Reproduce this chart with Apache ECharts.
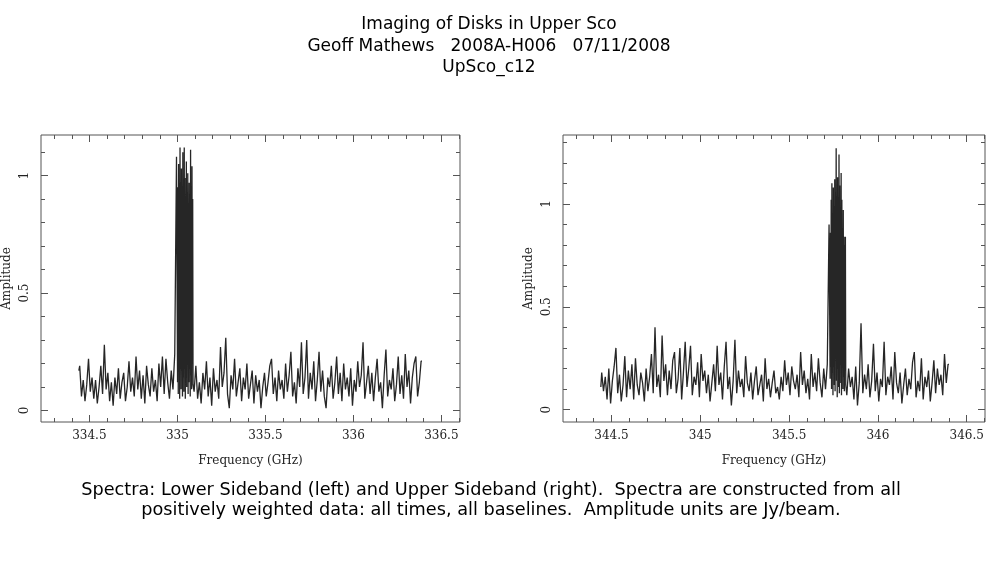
<!DOCTYPE html>
<html>
<head>
<meta charset="utf-8">
<script src="https://cdn.jsdelivr.net/npm/echarts@6/dist/echarts.min.js"></script>
<style>
  html, body { margin: 0; padding: 0; background: #fff; }
  #chart { width: 987px; height: 567px; }
</style>
</head>
<body>
<div id="chart"></div>
<script>
// channel grids (GHz)
var chanStep = 0.01, lineStep = 0.002;
var lsbStart = 334.44, lsbLineStart = 335.00, lsbHighStart = 335.10;
var usbStart = 344.44, usbLineStart = 345.73, usbHighStart = 345.83;

// lower sideband amplitudes (Jy/beam)
var lsbLow = [0.17,0.19,0.06,0.13,0.04,0.11,0.22,0.08,0.14,0.05,0.13,0.03,0.10,0.19,0.07,0.28,0.09,0.16,0.04,0.12,
  0.02,0.14,0.07,0.18,0.05,0.12,0.16,0.04,0.10,0.21,0.08,0.14,0.06,0.23,0.09,0.17,0.05,0.15,0.03,0.19,
  0.11,0.06,0.18,0.08,0.13,0.04,0.20,0.10,0.23,0.07,0.22,0.12,0.05,0.17,0.09,0.24];
var lsbLine = [1.08,0.12,0.95,0.07,1.05,0.25,0.88,0.05,1.12,0.18,0.97,0.09,1.03,0.30,0.84,0.06,1.10,0.14,0.92,0.08,
  1.12,0.22,0.99,0.05,0.86,0.16,1.06,0.10,0.93,0.27,1.01,0.07,0.79,0.12,0.97,0.20,0.74,0.06,1.11,0.15,
  0.95,0.09,1.04,0.24,0.90,0.11];
var lsbHigh = [0.08,0.19,0.05,0.12,0.03,0.16,0.09,0.21,0.06,0.14,0.02,0.18,0.08,0.13,0.05,0.27,0.10,0.16,0.31,0.07,
  0.01,0.15,0.09,0.22,0.06,0.12,0.18,0.04,0.14,0.09,0.20,0.05,0.11,0.17,0.03,0.15,0.08,0.13,0.01,0.10,
  0.16,0.06,0.12,0.19,0.22,0.07,0.14,0.04,0.17,0.09,0.13,0.05,0.20,0.08,0.15,0.25,0.06,0.12,0.03,0.18,
  0.10,0.29,0.07,0.14,0.30,0.05,0.16,0.09,0.21,0.04,0.13,0.25,0.08,0.17,0.06,0.01,0.14,0.10,0.19,0.05,
  0.12,0.23,0.07,0.16,0.04,0.20,0.09,0.14,0.06,0.18,0.02,0.13,0.08,0.21,0.10,0.15,0.29,0.05,0.12,0.19,
  0.07,0.16,0.04,0.14,0.22,0.08,0.12,0.01,0.15,0.26,0.06,0.13,0.09,0.18,0.04,0.11,0.23,0.07,0.15,0.05,
  0.24,0.10,0.17,0.03,0.14,0.20,0.23,0.06,0.12,0.21];

// upper sideband amplitudes (Jy/beam)
var usbLow = [0.11,0.18,0.09,0.16,0.05,0.20,0.03,0.14,0.21,0.30,0.08,0.17,0.04,0.12,0.26,0.06,0.19,0.10,0.22,0.05,
  0.25,0.12,0.07,0.18,0.13,0.04,0.20,0.09,0.16,0.27,0.08,0.40,0.11,0.17,0.06,0.36,0.14,0.22,0.07,0.19,
  0.10,0.24,0.28,0.08,0.15,0.30,0.05,0.18,0.33,0.11,0.20,0.31,0.07,0.16,0.12,0.23,0.06,0.27,0.14,0.19,
  0.08,0.17,0.04,0.13,0.22,0.09,0.31,0.12,0.18,0.05,0.21,0.33,0.10,0.16,0.02,0.14,0.34,0.08,0.19,0.11,
  0.15,0.06,0.26,0.13,0.09,0.18,0.05,0.14,0.21,0.07,0.12,0.17,0.04,0.25,0.10,0.15,0.06,0.13,0.19,0.08,
  0.11,0.05,0.16,0.09,0.24,0.12,0.18,0.07,0.21,0.14,0.10,0.17,0.06,0.28,0.12,0.19,0.08,0.15,0.05,0.27,
  0.11,0.18,0.09,0.25,0.13,0.06,0.20,0.10,0.22];
var usbLine = [0.90,0.15,0.86,0.21,1.02,0.10,1.10,0.18,0.95,0.07,1.08,0.25,0.99,0.12,1.12,0.09,1.05,0.30,1.27,0.14,
  0.92,0.06,1.13,0.20,1.00,0.11,1.24,0.08,1.09,0.27,0.96,0.13,1.15,0.07,1.02,0.22,0.88,0.10,0.97,0.16,
  0.84,0.09,0.80,0.19,0.84,0.12];
var usbHigh = [0.07,0.20,0.11,0.16,0.05,0.21,0.02,0.13,0.42,0.08,0.17,0.10,0.22,0.06,0.14,0.32,0.09,0.18,0.04,0.15,
  0.11,0.33,0.07,0.16,0.12,0.21,0.05,0.28,0.13,0.08,0.18,0.03,0.12,0.20,0.07,0.15,0.10,0.23,0.28,0.06,
  0.14,0.09,0.25,0.05,0.16,0.11,0.19,0.04,0.13,0.24,0.08,0.20,0.12,0.17,0.07,0.27,0.13,0.22];

// tick positions
var lsbMajor = [334.5, 335, 335.5, 336, 336.5];
var usbMajor = [344.5, 345, 345.5, 346, 346.5];
var lsbMinor = [334.3,334.4,334.6,334.7,334.8,334.9,335.1,335.2,335.3,335.4,335.6,335.7,335.8,335.9,336.1,336.2,336.3,336.4,336.6];
var usbMinor = [344.3,344.4,344.6,344.7,344.8,344.9,345.1,345.2,345.3,345.4,345.6,345.7,345.8,345.9,346.1,346.2,346.3,346.4,346.6];
var ampMajor = [0, 0.5, 1];
var lsbAmpMinor = [0.1,0.2,0.3,0.4,0.6,0.7,0.8,0.9,1.1];
var usbAmpMinor = [0.1,0.2,0.3,0.4,0.6,0.7,0.8,0.9,1.1,1.2,1.3];

function channels(start, step, vals) {
  return vals.map(function (v, i) { return [+(start + i * step).toFixed(4), v]; });
}

var lsbData = channels(lsbStart, chanStep, lsbLow)
  .concat(channels(lsbLineStart, lineStep, lsbLine), channels(lsbHighStart, chanStep, lsbHigh));
var usbData = channels(usbStart, chanStep, usbLow)
  .concat(channels(usbLineStart, lineStep, usbLine), channels(usbHighStart, chanStep, usbHigh));

var axisFont = 'DejaVu Serif';
var boxColor = '#555';

function tickAxis(g, pos, min, max, ticks, len, labels, extra) {
  var ax = {
    type: 'value', gridIndex: g, position: pos, min: min, max: max,
    axisLine: { show: false, onZero: false },
    splitLine: { show: false },
    axisTick: { show: true, inside: true, length: len, customValues: ticks,
      lineStyle: { color: boxColor, width: 1 } },
    axisLabel: { show: labels, customValues: ticks, color: '#222',
      fontFamily: axisFont, fontSize: 12 }
  };
  for (var k in extra) ax[k] = extra[k];
  return ax;
}

function xAxesFor(g, min, max, major, minor) {
  return [
    tickAxis(g, 'bottom', min, max, major, 7, true, {
      name: 'Frequency (GHz)', nameLocation: 'middle', nameGap: 33,
      nameTextStyle: { fontFamily: axisFont, fontSize: 12, color: '#222' }
    }),
    tickAxis(g, 'bottom', min, max, minor, 4, false, {}),
    tickAxis(g, 'top', min, max, major, 7, false, {}),
    tickAxis(g, 'top', min, max, minor, 4, false, {})
  ];
}

function yAxesFor(g, min, max, major, minor) {
  var main = tickAxis(g, 'left', min, max, major, 7, true, {
    name: 'Amplitude', nameLocation: 'middle', nameGap: 28, nameRotate: 90,
    nameTextStyle: { fontFamily: axisFont, fontSize: 12, color: '#222' }
  });
  main.axisLabel.rotate = 90;
  main.axisLabel.margin = 10;
  return [
    main,
    tickAxis(g, 'left', min, max, minor, 4, false, {}),
    tickAxis(g, 'right', min, max, major, 7, false, {}),
    tickAxis(g, 'right', min, max, minor, 4, false, {})
  ];
}

var chart = echarts.init(document.getElementById('chart'), null, { renderer: 'canvas' });

var option = {
  animation: false,
  backgroundColor: '#fff',
  title: [
    {
      text: 'Imaging of Disks in Upper Sco\nGeoff Mathews   2008A-H006   07/11/2008\nUpSco_c12',
      left: 484, top: 9, textAlign: 'center',
      textStyle: { fontFamily: 'DejaVu Sans', fontSize: 17, fontWeight: 'normal', color: '#000', lineHeight: 21.5, align: 'center' }
    },
    {
      text: 'Spectra: Lower Sideband (left) and Upper Sideband (right).  Spectra are constructed from all\npositively weighted data: all times, all baselines.  Amplitude units are Jy/beam.',
      left: 486, top: 475, textAlign: 'center',
      textStyle: { fontFamily: 'DejaVu Sans', fontSize: 17.7, fontWeight: 'normal', color: '#000', lineHeight: 20, align: 'center' }
    }
  ],
  grid: [
    { left: 38, top: 135, width: 422, height: 287, show: true, borderColor: boxColor, borderWidth: 1, backgroundColor: 'transparent' },
    { left: 563, top: 135, width: 422, height: 287, show: true, borderColor: boxColor, borderWidth: 1, backgroundColor: 'transparent' }
  ],
  xAxis: xAxesFor(0, 334.225, 336.606, lsbMajor, lsbMinor)
    .concat(xAxesFor(1, 344.227, 346.603, usbMajor, usbMinor)),
  yAxis: yAxesFor(0, -0.049, 1.173, ampMajor, lsbAmpMinor)
    .concat(yAxesFor(1, -0.06, 1.335, ampMajor, usbAmpMinor)),
  series: [
    {
      name: 'LSB', type: 'line', step: 'middle', xAxisIndex: 0, yAxisIndex: 0,
      data: lsbData, showSymbol: false, symbol: 'none',
      lineStyle: { color: '#262626', width: 1.3 }
    },
    {
      name: 'USB', type: 'line', step: 'middle', xAxisIndex: 4, yAxisIndex: 4,
      data: usbData, showSymbol: false, symbol: 'none',
      lineStyle: { color: '#262626', width: 1.3 }
    }
  ]
};

chart.setOption(option);
</script>
</body>
</html>
